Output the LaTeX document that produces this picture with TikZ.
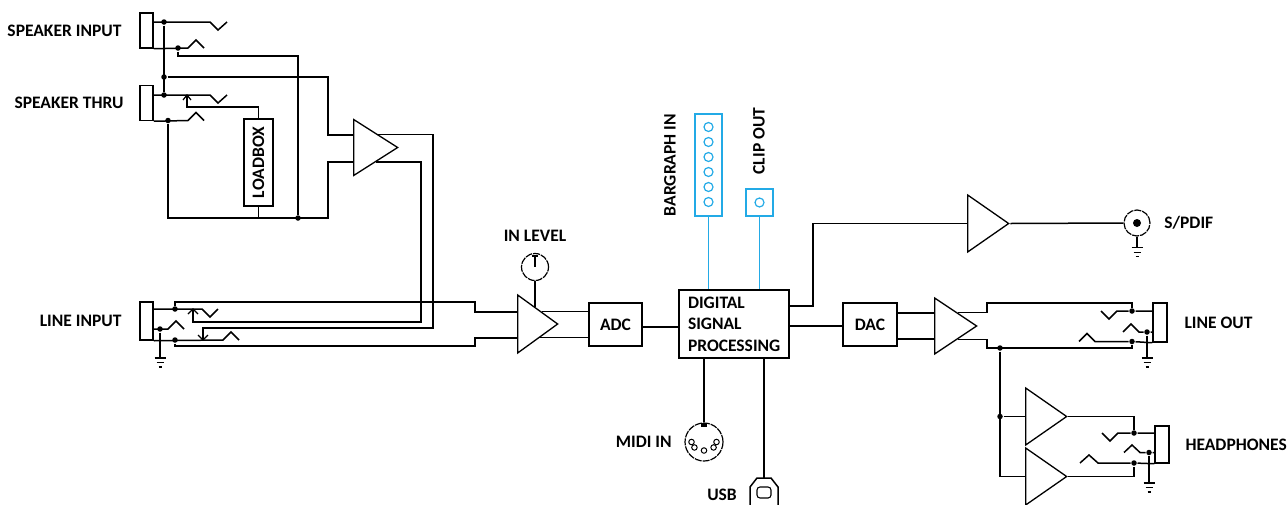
\documentclass[tikz,border=0pt]{standalone}
\usepackage{fontspec}
\setmainfont{Carlito}
\usetikzlibrary{shapes.geometric, positioning, calc}
\definecolor{ledblue}{RGB}{35,170,230}

\begin{document}
\begin{tikzpicture}[
        x=1pt, y=-1pt,
        line width=1.5pt,
        font=\fontsize{17.5}{21.5}\selectfont\bfseries,
        jack/.style={rectangle, draw, minimum width=13, minimum height=35, inner sep=0},
        box/.style={rectangle, draw, inner sep=0},
        % minimum width = base (vertical), minimum height = length (horizontal)
        amp/.style={isosceles triangle, isosceles triangle stretches, draw, line width=1.3pt, minimum width=57, minimum height=41, inner sep=0, anchor=lower side},
        lbl/.style={inner sep=0},
        dot/.style={circle, fill, inner sep=0, minimum size=5.5},
        knob/.style={circle, draw, line width=1.2pt, dash pattern=on 7pt off 1pt, inner sep=0},
        led/.style={circle, draw=ledblue, line width=1.2pt, inner sep=0, minimum size=9},
        gnd/.pic={\draw[line width=1.2pt] (-5.5,0) -- (5.5,0) (-3.5,4.5) -- (3.5,4.5) (-1.5,9) -- (1.5,9);}
    ]
    \useasboundingbox (0,0) rectangle (1288,504);

    % Speaker input
    \node[jack] (spkin) at (146.5,30.5) {};
    \node[lbl, left=17pt of spkin] {SPEAKER INPUT};
    \node[dot] (d1) at (164,22) {};
    \node[dot] (d2) at (178,48) {};
    \draw (spkin.east |- d1) -- (210,22) -- (218,30) -- (227,22);
    \draw (spkin.south east) -- (188,48) -- (196,40) -- (204,48);

    % Speaker thru
    \node[jack] (spkthru) at (146.5,103) {};
    \node[lbl, left=15pt of spkthru] {SPEAKER THRU};
    \node[dot] (d3) at (164,77) {};
    \node[dot] (d4) at (164,95) {};
    \node[dot] (d5) at (168,120.5) {};
    \draw (spkthru.east |- d4) -- (210,95) -- (218,103) -- (227,95);
    \draw (spkthru.south east) -- (188,120.5) -- (196,112.5) -- (204,120.5);
    \draw (d1) -- (d4);
    \coordinate (sw1) at (187,95);
    \draw[line width=1.2pt] (183,100) -- (sw1) -- (191,100);

    % Loadbox and speaker amp
    \node[box, minimum width=29, minimum height=87] (load) at (258.5,162.5) {\rotatebox{90}{LOADBOX}};
    \node[amp, minimum width=56, minimum height=44] (amp1) at (353,147.5) {};
    \node[dot] (d6) at (298,218) {};
    \draw (sw1) -- (187,107) -| (load.north);
    \draw (d2) -- (178,56) -| (d6);
    \draw (d3) -| (328,135) -- (amp1.lower side |- 0,135);
    \draw (d5) |- (328,218) |- (amp1.lower side |- 0,162);
    \draw (load.south) -- (load.south |- d6);

    % Line input
    \node[jack, minimum height=38] (linein) at (146.5,321) {};
    \node[lbl, left=17pt of linein] {LINE INPUT};
    \node[dot] (d7) at (175,309) {};
    \node[dot] (d8) at (160,329) {};
    \node[dot] (d9) at (175,340) {};
    \draw (linein.east |- d7) -- (202,309) -- (210,317) -- (218,309);
    \draw (linein.east |- d8) -- (168,329) -- (176,321) -- (184,329);
    \draw (linein.south east) -- (223,340) -- (231,332) -- (239,340);
    \draw (d8) -- (160,358) pic {gnd};
    \coordinate (sw2) at (193,309);
    \coordinate (sw3) at (203,340);
    \draw[line width=1.2pt] (188,314) -- (sw2) -- (198,314);
    \draw[line width=1.2pt] (198,335) -- (sw3) -- (208,335);
    \draw ($(amp1.apex)!0.5!(amp1.right corner)$) -| (421,322) -| (sw2);
    \draw ($(amp1.apex)!0.45!(amp1.left corner)$) -| (433,328) -| (sw3);

    % Input level amp and ADC
    \node[amp, minimum width=58, minimum height=40] (amp2) at (517,324) {};
    \node[knob, minimum size=27] (pot) at (535,267) {};
    \node[lbl, above=11pt of pot] {IN LEVEL};
    \draw[line width=1.1pt] (532,256) -- (538,256) (535,256) -- (pot.center);
    \coordinate (a2top) at ($(amp2.left corner)!0.45!(amp2.apex)$);
    \draw (pot.south) -- (pot.south |- a2top);
    \draw (d7) |- (475,302) |- (amp2.lower side |- 0,312);
    \draw (d9) |- (475,346) |- (amp2.lower side |- 0,338);
    \node[box, minimum width=53, minimum height=43] (adc) at (615.5,324.5) {ADC};
    \coordinate (a2o1) at ($(amp2.apex)!0.41!(amp2.left corner)$);
    \coordinate (a2o2) at ($(amp2.apex)!0.45!(amp2.right corner)$);
    \draw (a2o1) -- (a2o1 -| adc.west);
    \draw (a2o2) -- (a2o2 -| adc.west);

    % DSP
    \node[box, minimum height=68, text width=92, inner xsep=9, align=left] (dsp) at (734,324) {DIGITAL\\SIGNAL\\PROCESSING};
    \draw (adc.east |- 0,327) -- (dsp.west |- 0,327);

    % Bargraph and clip
    \node[box, draw=ledblue, minimum width=27, minimum height=102] (bar) at (708.5,165) {};
    \foreach \i in {0,...,5}
        \node[led] (led\i) at (708.5,127+15*\i) {};
    \node[lbl, rotate=90] (barlbl) at (670,165) {BARGRAPH IN};
    \draw[ledblue] (bar.south) -- (bar.south |- dsp.north);
    \node[box, draw=ledblue, minimum size=27] (clip) at (759.5,202.5) {};
    \node[led] (cled) at (clip) {};
    \node[lbl, rotate=90] (cliplbl) at (759,141) {CLIP OUT};
    \draw[ledblue] (clip.south) -- (clip.south |- dsp.north);

    % MIDI and USB
    \node[knob, minimum size=38] (midi) at (704,442) {};
    \node[rectangle, fill, minimum width=6, minimum height=4, inner sep=0, anchor=north] (notch) at (midi.north) {};
    \foreach \a [count=\i] in {0,40,90,140,180}
        \node[circle, draw, line width=1pt, minimum size=5.5, inner sep=0] (pin\i) at ($(midi)+({12.5*cos(\a)},{8.5*sin(\a)})$) {};
    \node[lbl, left=12pt of midi] {MIDI IN};
    \draw (midi.north |- dsp.south) -- (midi.north);
    \coordinate (usb) at (764,478);
    \draw (usb |- dsp.south) -- (usb);
    \draw (750,506) -- (750,487) -- (757,478) -- (771,478) -- (778,487) -- (778,506);
    \draw[line width=1.1pt, rounded corners=3] (757,487) rectangle (771,498);
    \node[lbl] (usblbl) at (722,495) {USB};

    % S/PDIF
    \node[amp] (amp3) at (967,223.5) {};
    \node[knob, minimum size=26] (spdif) at (1137,223) {};
    \node[dot, minimum size=8] (spdifpin) at (spdif) {};
    \node[lbl, right=13pt of spdif] {S/PDIF};
    \draw (dsp.east |- 0,306) -| (813,223.5) -- (amp3.lower side);
    \draw (amp3.apex) -- (spdif.west);
    \draw (spdif.south) -- ++(0,11) pic {gnd};

    % DAC and line out
    \node[box, minimum width=54, minimum height=43] (dac) at (870,324.5) {DAC};
    \node[amp, minimum width=56, minimum height=42] (amp4) at (934,326) {};
    \draw (dsp.east |- 0,326) -- (dac.west |- 0,326);
    \draw (dac.east |- 0,313) -- (amp4.lower side |- 0,313);
    \draw (dac.east |- 0,339) -- (amp4.lower side |- 0,339);
    \node[jack, minimum width=14, minimum height=39] (lineout) at (1160,322.5) {};
    \node[lbl, right=16pt of lineout] {LINE OUT};
    \node[dot] (d10) at (1132,311) {};
    \node[dot] (d11) at (1147,332) {};
    \node[dot] (d12) at (1132,341.5) {};
    \node[dot] (d13) at (1000,348) {};
    \draw ($(amp4.apex)!0.46!(amp4.left corner)$) -| (987,303) -| (d10);
    \draw ($(amp4.apex)!0.46!(amp4.right corner)$) -| (987,348) -| (d12);
    \draw (lineout.west |- d10) -- (d10) -- (1117,311) -- (1109,319) -- (1101,311);
    \draw (lineout.west |- d11) -- (d11) -- (1139,332) -- (1131,324) -- (1123,332);
    \draw (lineout.south west) -- (d12) -- (1095,341.5) -- (1087,333.5) -- (1079,341.5);
    \draw (d11) -- (1147,358) pic {gnd};

    % Headphones
    \node[amp] (amp5) at (1025,416.5) {};
    \node[amp] (amp6) at (1025,476.5) {};
    \node[dot] (d14) at (1000,416.5) {};
    \draw (d13) |- (amp6.lower side);
    \draw (d14) -- (amp5.lower side);
    \node[jack, minimum width=14, minimum height=37] (phones) at (1162,444.5) {};
    \node[lbl, right=15pt of phones] {HEADPHONES};
    \node[dot] (d15) at (1134,433) {};
    \node[dot] (d16) at (1149,452.5) {};
    \node[dot] (d17) at (1134,463) {};
    \draw (amp5.apex) -| (d15);
    \draw (amp6.apex) -| (d17);
    \draw (phones.west |- d15) -- (d15) -- (1118,433) -- (1110,441) -- (1102,433);
    \draw (phones.west |- d16) -- (d16) -- (1140,452.5) -- (1132,445) -- (1124,452.5);
    \draw (phones.south west) -- (d17) -- (1098,463) -- (1089,455) -- (1080,463);
    \draw (d16) -- (1149,483) pic {gnd};
\end{tikzpicture}
\end{document}
